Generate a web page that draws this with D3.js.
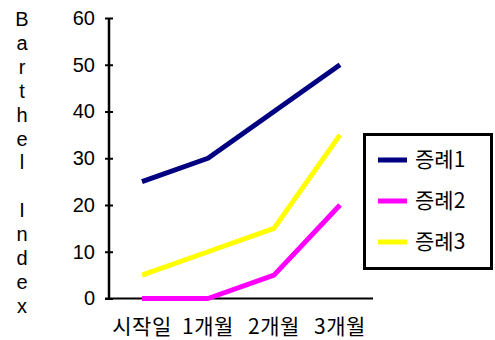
<!DOCTYPE html>
<html lang="ko">
<head>
  <meta charset="UTF-8">
  <title>Barthel Index</title>
  <script src="https://cdn.jsdelivr.net/npm/d3@7.9.0/dist/d3.min.js"></script>
  <style>
    html, body { margin: 0; padding: 0; background: #fff; }
    svg { display: block; font-family: "Liberation Sans", Arial, "Noto Sans CJK KR", sans-serif; }
  </style>
</head>
<body>
  <svg id="chart" width="495" height="340"></svg>
  <script>
    // data
    const categories = ["시작일", "1개월", "2개월", "3개월"];
    const seriesNames = ["증례1", "증례2", "증례3"];
    const case1 = [25, 30, 40, 50];
    const case2 = [0, 0, 5, 20];
    const case3 = [5, 10, 15, 35];
    const yTicks = [0, 10, 20, 30, 40, 50, 60];
    const colors = ["#000080", "#ff00ff", "#ffff00"];
    const yTitle = "Barthel Index";

    const svg = d3.select("#chart");
    const plot = { left: 109, right: 373, top: 18, bottom: 298.5 };

    const x = d3.scaleBand().domain(categories).range([plot.left, plot.right]);
    const y = d3.scaleLinear().domain([0, 60]).range([plot.bottom, plot.top]);

    // y axis title, one letter per line
    const title = svg.append("text")
      .attr("x", 22).attr("y", 26)
      .attr("text-anchor", "middle")
      .style("font-size", "20px")
      .attr("fill", "#000");
    yTitle.split("").forEach((ch, i) => {
      title.append("tspan")
        .attr("x", 22)
        .attr("dy", i === 0 ? 0 : 23.9)
        .text(ch === " " ? "\u00a0" : ch);
    });

    // y axis
    const yAxis = svg.append("g")
      .attr("transform", `translate(${plot.left},0)`)
      .call(d3.axisLeft(y).tickValues(yTicks).tickSize(0).tickPadding(14));
    yAxis.select(".domain").remove();
    yAxis.selectAll("text").style("font-size", "20px").attr("fill", "#000")
      .attr("font-family", "Liberation Sans, Arial, sans-serif");
    yAxis.selectAll(".tick").append("line")
      .attr("x1", -4).attr("x2", 4)
      .attr("stroke", "#000").attr("stroke-width", 2);
    svg.append("line")
      .attr("x1", plot.left).attr("x2", plot.left)
      .attr("y1", y(60)).attr("y2", y(0))
      .attr("stroke", "#000").attr("stroke-width", 2.5);

    // x axis
    svg.append("line")
      .attr("x1", plot.left - 4).attr("x2", plot.right)
      .attr("y1", y(0)).attr("y2", y(0))
      .attr("stroke", "#000").attr("stroke-width", 2);
    svg.append("g").selectAll("text")
      .data(categories)
      .join("text")
      .attr("x", d => x(d) + x.bandwidth() / 2)
      .attr("y", 334)
      .attr("text-anchor", "middle")
      .style("font-size", "21px")
      .style("font-family", "'Noto Sans CJK KR', sans-serif")
      .style("letter-spacing", "0.5px")
      .text(d => d);

    // lines
    const line = d3.line()
      .x((d, i) => x(categories[i]) + x.bandwidth() / 2)
      .y(d => y(d));
    [case1, case2, case3].forEach((vals, i) => {
      svg.append("path")
        .datum(vals)
        .attr("d", line)
        .attr("fill", "none")
        .attr("stroke", colors[i])
        .attr("stroke-width", 5)
        .attr("stroke-linejoin", "round");
    });

    // legend
    const legend = svg.append("g");
    legend.append("rect")
      .attr("x", 364.5).attr("y", 134.5)
      .attr("width", 127).attr("height", 134)
      .attr("fill", "#fff")
      .attr("stroke", "#000").attr("stroke-width", 3);
    seriesNames.forEach((name, i) => {
      const ly = 160 + i * 41;
      legend.append("line")
        .attr("x1", 378).attr("x2", 407)
        .attr("y1", ly).attr("y2", ly)
        .attr("stroke", colors[i]).attr("stroke-width", 5);
      legend.append("text")
        .attr("x", 415).attr("y", ly + 7)
        .style("font-size", "21px")
        .style("font-family", "'Noto Sans CJK KR', sans-serif")
        .text(name);
    });
  </script>
</body>
</html>
